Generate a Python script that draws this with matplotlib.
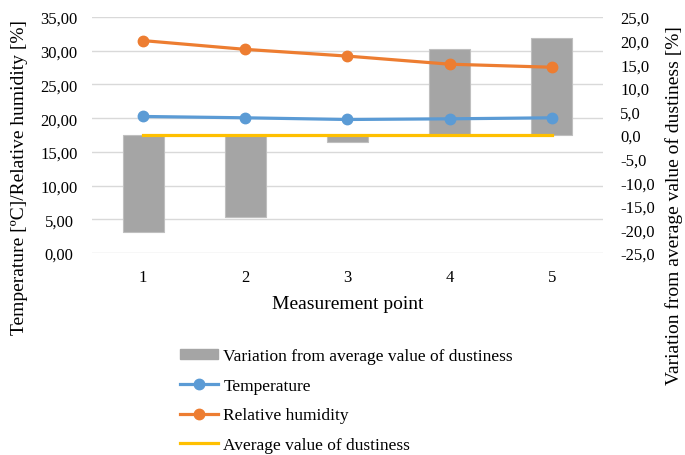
import matplotlib
matplotlib.use("Agg")
import matplotlib.pyplot as plt
from matplotlib.ticker import FuncFormatter, MultipleLocator
from matplotlib.lines import Line2D
from matplotlib.patches import Patch

plt.rcParams['font.family'] = ['Liberation Serif', 'DejaVu Serif']

points = [1, 2, 3, 4, 5]
dust_variation = [-20.5, -17.3, -1.5, 18.2, 20.5]
temperature = [20.25, 20.05, 19.8, 19.9, 20.05]
humidity = [31.5, 30.2, 29.2, 28.0, 27.55]
dust_average = [0, 0, 0, 0, 0]

c_bar = '#a5a5a5'
c_temp = '#5b9bd5'
c_hum = '#ed7d31'
c_avg = '#ffc000'

W, H = 685, 456
fig = plt.figure(figsize=(W / 100, H / 100), dpi=100)
x0, x1, y0, y1 = 92, 603, 18, 254
rect = [x0 / W, 1 - y1 / H, (x1 - x0) / W, (y1 - y0) / H]
px = 72 / 100  # points per pixel

# base axes: left scale + gridlines
ax = fig.add_axes(rect)
ax.set_ylim(0, 35)
ax.set_xlim(0.5, 5.5)
ax.yaxis.set_major_locator(MultipleLocator(5))
ax.yaxis.set_major_formatter(FuncFormatter(lambda v, p: f"{v:.2f}".replace('.', ',')))
ax.grid(axis='y', color='#d9d9d9', linewidth=1)
ax.set_axisbelow(True)
ax.set_xticks(points)
ax.set_xticklabels([str(p) for p in points])
for s in ax.spines.values():
    s.set_visible(False)
ax.tick_params(length=0, labelsize=12)
ax.tick_params(axis='y', pad=(x0 - 59) * px)
for lbl in ax.get_yticklabels():
    lbl.set_horizontalalignment('center')
ax.tick_params(axis='x', pad=16 * px)
ax.set_ylabel('Temperature [ºC]/Relative humidity [%]', fontsize=14)
ax.yaxis.set_label_coords((28 - x0) / (x1 - x0), (y1 - 178) / (y1 - y0))
ax.set_xlabel('Measurement point', fontsize=14)
ax.xaxis.set_label_coords(0.5, (y1 - 296) / (y1 - y0))

# bars on the right scale
axb = ax.twinx()
axb.set_zorder(1)
axb.patch.set_visible(False)
axb.set_ylim(-25, 25)
axb.yaxis.set_major_locator(MultipleLocator(5))
axb.yaxis.set_major_formatter(FuncFormatter(lambda v, p: f"{v:.1f}".replace('.', ',').replace('-0,0', '0,0')))
axb.bar(points, dust_variation, width=0.4, color=c_bar, edgecolor='#bfbfbf', linewidth=0.8, zorder=1)
axb.plot(points, dust_average, color=c_avg, linewidth=2.3, zorder=3)
for s in axb.spines.values():
    s.set_visible(False)
axb.tick_params(length=0, labelsize=12, pad=(620 - x1) * px)
axb.set_ylabel('Variation from average value of dustiness [%]', fontsize=14)
axb.yaxis.set_label_coords((665 - x0) / (x1 - x0), (y1 - 206) / (y1 - y0))

# lines on the left scale, drawn on top
axl = ax.twinx()
axl.set_zorder(2)
axl.patch.set_visible(False)
axl.set_ylim(0, 35)
axl.set_yticks([])
for s in axl.spines.values():
    s.set_visible(False)
axl.plot(points, temperature, color=c_temp, linewidth=2.3, marker='o', markersize=7.5)
axl.plot(points, humidity, color=c_hum, linewidth=2.3, marker='o', markersize=7.5)

handles = [
    Patch(facecolor=c_bar, edgecolor=c_bar),
    Line2D([], [], color=c_temp, linewidth=2.3, marker='o', markersize=7.5),
    Line2D([], [], color=c_hum, linewidth=2.3, marker='o', markersize=7.5),
    Line2D([], [], color=c_avg, linewidth=2.3),
]
labels = ['Variation from average value of dustiness', 'Temperature',
          'Relative humidity', 'Average value of dustiness']
fig.legend(handles, labels, loc='upper left', bbox_to_anchor=(180 / W, 1 - 349 / H),
           frameon=False, fontsize=12.5, handlelength=2.2, handleheight=0.5,
           handletextpad=0.3, labelspacing=0.78, borderpad=0, borderaxespad=0)

fig.savefig('out.png', dpi=100)
